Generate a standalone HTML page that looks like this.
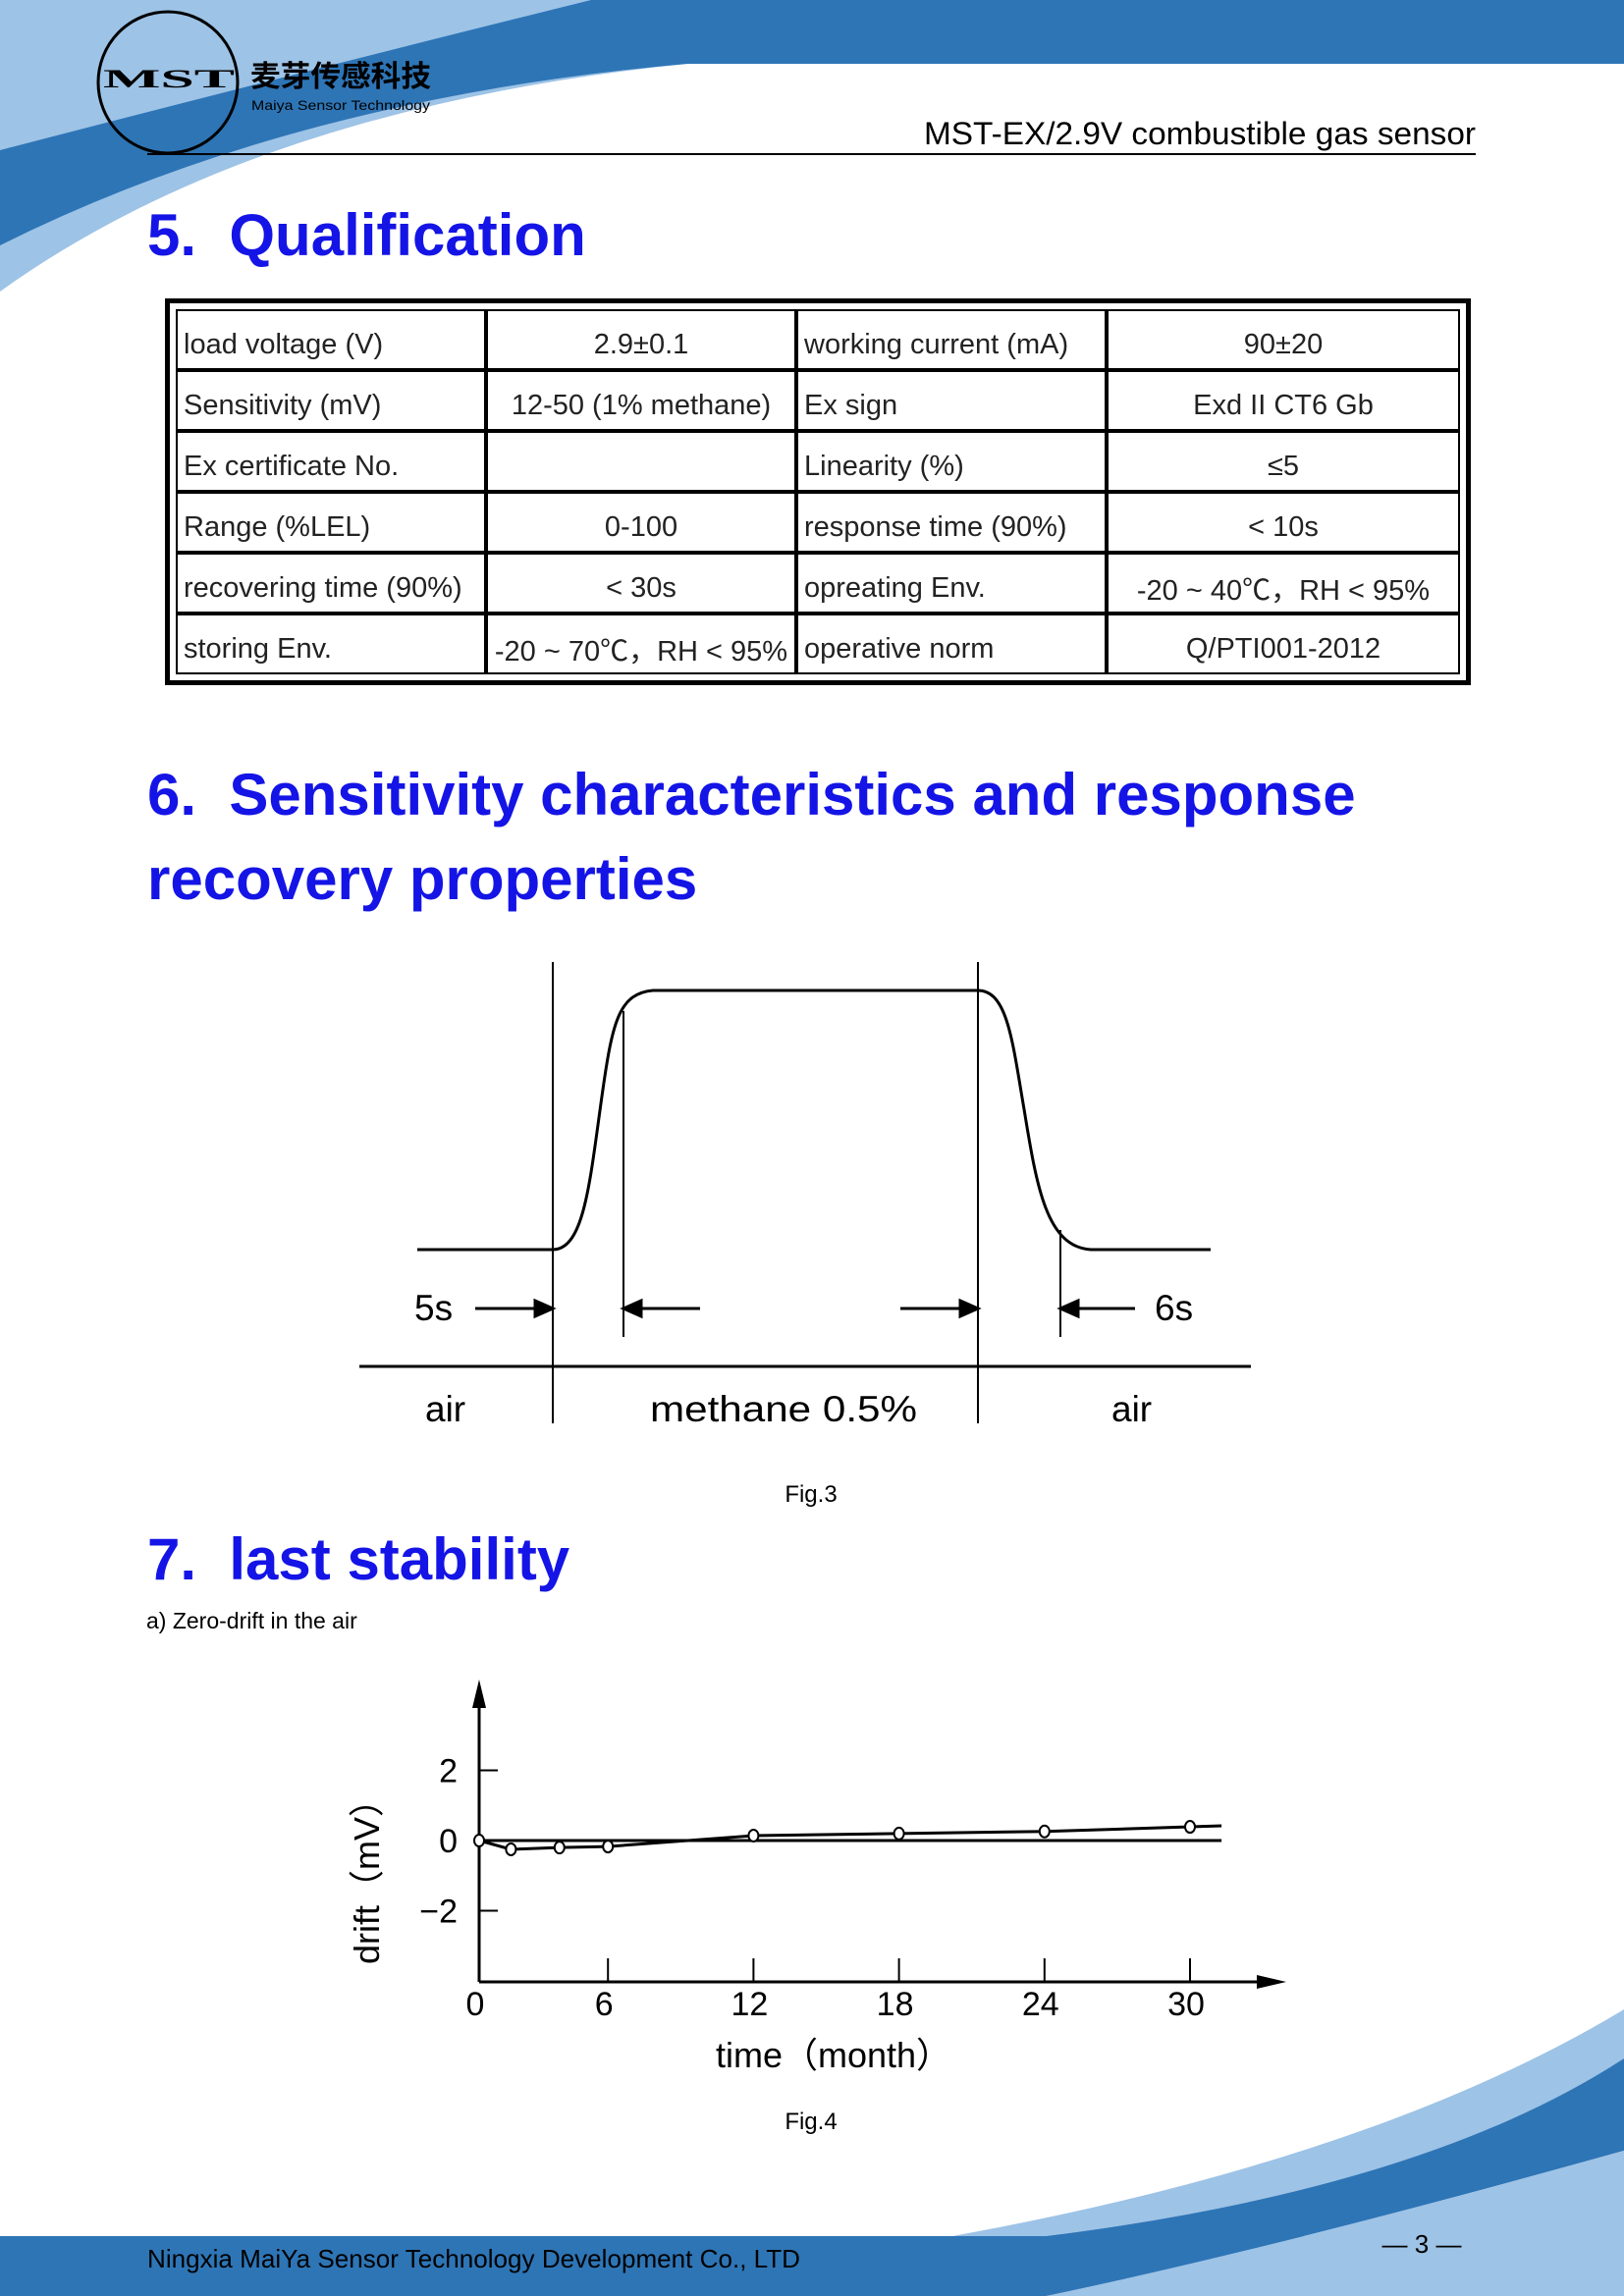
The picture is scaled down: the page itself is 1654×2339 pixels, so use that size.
<!DOCTYPE html>
<html><head><meta charset="utf-8">
<style>
html,body{margin:0;padding:0;background:#fff;}
#page{position:relative;width:1654px;height:2339px;overflow:hidden;background:#fff;font-family:"Liberation Sans","Noto Sans CJK SC",sans-serif;}
svg{position:absolute;left:0;top:0;}
.t{position:absolute;white-space:nowrap;}
.h{color:#1414e6;font-weight:bold;font-size:60px;left:150px;}
table{position:absolute;left:168px;top:304px;width:1330px;border-collapse:separate;border-spacing:0;border:5px solid #000;padding:6px;}
td{border:2px solid #000;height:48px;padding:10px 6px 0 6px;font-size:29px;color:#222;}
td.c{text-align:center;}
</style></head><body>
<div id="page">
<svg width="1654" height="2339">
  <path d="M0,0 L1654,0 L1654,65 L700,65 Q260,110 0,297 Z" fill="#9dc3e6"/>
  <path d="M0,153 Q300,75 602,0 L1654,0 L1654,65 L700,65 Q300,100 0,250 Z" fill="#2e75b6"/>
  <ellipse cx="171" cy="84" rx="71" ry="72" fill="none" stroke="#000" stroke-width="3"/>
  <text x="172" y="89" font-family="Liberation Serif" font-weight="bold" font-size="26" text-anchor="middle" textLength="134" lengthAdjust="spacingAndGlyphs">MST</text>
  <text x="255" y="88" font-family="Noto Sans CJK SC" font-weight="bold" font-size="30" textLength="184" lengthAdjust="spacingAndGlyphs">麦芽传感科技</text>
  <text x="256" y="112" font-size="14" textLength="182" lengthAdjust="spacingAndGlyphs">Maiya Sensor Technology</text>
  <line x1="150" y1="157" x2="1503" y2="157" stroke="#000" stroke-width="2"/>
  <text x="1503" y="147" font-size="32" text-anchor="end" textLength="562" lengthAdjust="spacingAndGlyphs">MST-EX/2.9V combustible gas sensor</text>

  <!-- footer -->
  <rect x="0" y="2278" width="1654" height="61" fill="#2e75b6"/>
  <path d="M970,2278 Q1400,2200 1654,2047 L1654,2097 Q1450,2230 1065,2278 Z" fill="#9dc3e6"/>
  <path d="M1065,2278 Q1450,2230 1654,2097 L1654,2191 Q1300,2290 1065,2339 Z" fill="#2e75b6"/>
  <path d="M1065,2339 Q1300,2290 1654,2191 L1654,2339 Z" fill="#9dc3e6"/>
  <text x="150" y="2310" font-size="26" fill="#000" textLength="665" lengthAdjust="spacingAndGlyphs">Ningxia MaiYa Sensor Technology Development Co., LTD</text>
  <text x="1448" y="2295" font-size="26" text-anchor="middle">— 3 —</text>

  <!-- Fig 3 -->
  <g fill="none" stroke="#000">
    <line x1="563" y1="980" x2="563" y2="1450" stroke-width="2"/>
    <line x1="996" y1="980" x2="996" y2="1450" stroke-width="2"/>
    <line x1="635" y1="1030" x2="635" y2="1362" stroke-width="2"/>
    <line x1="1080" y1="1253" x2="1080" y2="1362" stroke-width="2"/>
    <line x1="366" y1="1392" x2="1274" y2="1392" stroke-width="3"/>
    <path d="M425,1273 L563,1273 C596,1273 601,1200 614,1110 C624,1040 631,1012 665,1009 L996,1009 C1026,1009 1031,1060 1043,1130 C1056,1210 1066,1270 1111,1273 L1233,1273" stroke-width="3"/>
    <g stroke-width="3">
      <line x1="484" y1="1333" x2="549" y2="1333"/><path d="M563,1333 L545,1325 L545,1341 Z" fill="#000"/>
      <line x1="649" y1="1333" x2="713" y2="1333"/><path d="M635,1333 L653,1325 L653,1341 Z" fill="#000"/>
      <line x1="917" y1="1333" x2="982" y2="1333"/><path d="M996,1333 L978,1325 L978,1341 Z" fill="#000"/>
      <line x1="1094" y1="1333" x2="1156" y2="1333"/><path d="M1080,1333 L1098,1325 L1098,1341 Z" fill="#000"/>
    </g>
  </g>
  <g font-size="37" fill="#000">
    <text x="422" y="1345">5s</text>
    <text x="1176" y="1345">6s</text>
    <text x="433" y="1448">air</text>
    <text x="662" y="1448" textLength="272" lengthAdjust="spacingAndGlyphs">methane 0.5%</text>
    <text x="1132" y="1448">air</text>
  </g>
  <text x="826" y="1530" font-size="24" text-anchor="middle">Fig.3</text>
  <text x="149" y="1659" font-size="23">a) Zero-drift in the air</text>
  <text x="826" y="2169" font-size="24" text-anchor="middle">Fig.4</text>

  <g id="chart"></g>
</svg>

<div class="t h" style="top:205px;">5.&nbsp; Qualification</div>
<table>
<tr><td style="width:300px">load voltage (V)</td><td class="c" style="width:300px">2.9±0.1</td><td style="width:300px">working current (mA)</td><td class="c">90±20</td></tr>
<tr><td>Sensitivity (mV)</td><td class="c">12-50 (1% methane)</td><td>Ex sign</td><td class="c">Exd II CT6 Gb</td></tr>
<tr><td>Ex certificate No.</td><td class="c"></td><td>Linearity (%)</td><td class="c">≤5</td></tr>
<tr><td>Range (%LEL)</td><td class="c">0-100</td><td>response time (90%)</td><td class="c">&lt; 10s</td></tr>
<tr><td>recovering time (90%)</td><td class="c">&lt; 30s</td><td>opreating Env.</td><td class="c">-20 ~ 40℃，RH &lt; 95%</td></tr>
<tr><td>storing Env.</td><td class="c">-20 ~ 70℃，RH &lt; 95%</td><td>operative norm</td><td class="c">Q/PTI001-2012</td></tr>
</table>
<div class="t h" style="top:775px;">6.&nbsp; Sensitivity characteristics and response</div>
<div class="t h" style="top:861px;">recovery properties</div>
<div class="t h" style="top:1554px;">7.&nbsp; last stability</div>
</div>
<script>
const months = [0, 2, 4, 6, 12, 18, 24, 30];
const drift = [0, -0.25, -0.2, -0.17, 0.14, 0.2, 0.26, 0.39];
const xTicks = [0, 6, 12, 18, 24, 30];
const yTicks = [2, 0, -2];
const yTickLabels = ["2", "0", "−2"];
const lineEnd = [31.3, 0.42];

const NS = "http://www.w3.org/2000/svg";
const g = document.getElementById('chart');
const X = m => Math.max(488, 471 + m * 24.7);
const Y = v => 1875 - v * 35.75;
function mk(tag, attrs, parent) {
  const e = document.createElementNS(NS, tag);
  for (const k in attrs) e.setAttribute(k, attrs[k]);
  (parent || g).appendChild(e);
  return e;
}
let e;
e = mk('line', {x1: 488, y1: 2019, x2: 488, y2: 1735, stroke: '#000', 'stroke-width': 3});


e = mk('path', {d: 'M488,1711 L481,1740 L495,1740 Z', fill: '#000'});


e = mk('line', {x1: 488, y1: 2019, x2: 1285, y2: 2019, stroke: '#000', 'stroke-width': 3});


e = mk('path', {d: 'M1310,2019 L1280,2012 L1280,2026 Z', fill: '#000'});


e = mk('line', {x1: X(0), y1: Y(0), x2: X(lineEnd[0]), y2: Y(0), stroke: '#000', 'stroke-width': 3});


xTicks.forEach(t => {
  if (t > 0) {
    e = mk('line', {x1: X(t), y1: 1995, x2: X(t), y2: 2019, stroke: '#000', 'stroke-width': 2});
    
    
  }
  e = mk('text', {x: X(t) - 4, y: 2053, 'font-size': 34, 'text-anchor': 'middle'});
  e.textContent = t;
  
  
});
yTicks.forEach((t, i) => {
  if (t !== 0) {
    e = mk('line', {x1: 488, y1: Y(t), x2: 507, y2: Y(t), stroke: '#000', 'stroke-width': 2});
    
    
  }
  e = mk('text', {x: 466, y: Y(t) + 12, 'font-size': 34, 'text-anchor': 'end'});
  e.textContent = yTickLabels[i];
  
  
});
const pts = months.map((m, i) => X(m) + ',' + Y(drift[i])).concat([X(lineEnd[0]) + ',' + Y(lineEnd[1])]);
e = mk('polyline', {points: pts.join(' '), fill: 'none', stroke: '#000', 'stroke-width': 3});


months.forEach((m, i) => {
  e = mk('ellipse', {cx: X(m), cy: Y(drift[i]), rx: 5, ry: 6, fill: '#fff', stroke: '#000', 'stroke-width': 2});
  
  
});
e = mk('text', {x: 849, y: 2106, 'font-size': 36, 'text-anchor': 'middle'});
e.textContent = 'time（month）';


e = mk('text', {x: 0, y: 0, 'font-size': 36, 'text-anchor': 'middle', transform: 'translate(386,1908) rotate(-90)'});
e.textContent = 'drift（mV）';


</script>
</body></html>
